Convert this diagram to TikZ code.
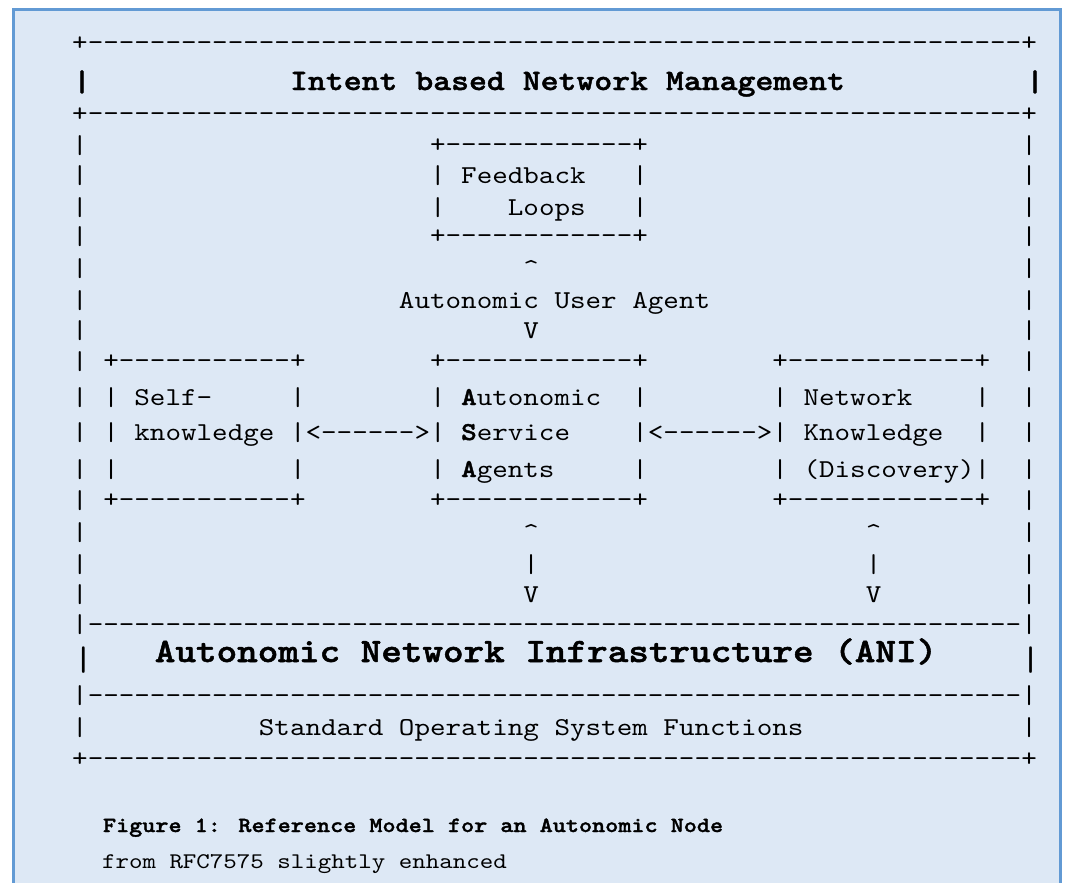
\documentclass[tikz,border=0pt]{standalone}
\usepackage{fontspec}
\newfontfamily\artfont{lmmono10-regular.otf}[BoldFont=lmmonolt10-bold.otf, BoldFeatures={FakeBold=1.5}, FakeStretch=1.15]
\usepackage{tikz}

\definecolor{panelfill}{RGB}{221,232,245}
\definecolor{panelline}{RGB}{98,154,212}
\newcommand\dashrun[1]{\ifnum#1>0 -\expandafter\dashrun\expandafter{\number\numexpr#1-1\relax}\fi}

\begin{document}
\begin{tikzpicture}[x=1pt, y=-1pt,
		every node/.style={inner sep=0pt, outer sep=0pt},
		art/.style={anchor=base west, font=\artfont\fontsize{25.77}{30}\selectfont},
		bigbar/.style={anchor=base, font=\artfont\bfseries\fontsize{29.65}{34}\selectfont},
		anibar/.style={anchor=base, font=\artfont\fontsize{34.1}{40}\selectfont},
		caption/.style={anchor=base west, font=\artfont\fontsize{22.36}{26}\selectfont}]
	\useasboundingbox (0,0) rectangle (1065,883);
	\fill[white] (0,0) rectangle (1065,883);
	\draw[panelline, line width=3pt, fill=panelfill] (13.3,10) rectangle (1060.5,900);

	% title row of the frame
	\node[bigbar] (ibnl) at (82,91) {|};
	\node[bigbar] (ibn) at (567.5,90) {Intent based Network Management};
	\node[bigbar] (ibnr) at (1035,91) {|};

	% ANI row
	\node[anibar] (anil) at (83.3,670) {|};
	\node[anibar, font=\artfont\bfseries\fontsize{34.1}{40}\selectfont] (ani) at (546,662)
		{Autonomic Network Infrastructure (ANI)};
	\node[anibar] (anir) at (1030.7,670) {|};

	\begin{scope}[x=15.56pt, xshift=72.2pt]
		\node[art] (top) at (0,51) {+\dashrun{60}+};
		\node[art] (ibnbot) at (0,121) {+\dashrun{60}+};

		\foreach \y in {153,183,215,244,276,308,338,369,405,440,477,508,540,572,602} {
			\node[art] (lb\y) at (0,\y) {|};
			\node[art] (rb\y) at (61,\y) {|};
		}

		% feedback loops
		\node[art] (fbtop) at (23,152) {+\dashrun{12}+};
		\node[art] (fbl1) at (23,183) {|};
		\node[art] (fb1) at (25,183) {Feedback};
		\node[art] (fbr1) at (36,183) {|};
		\node[art] (fbl2) at (23,215) {|};
		\node[art] (fb2) at (28,215) {Loops};
		\node[art] (fbr2) at (36,215) {|};
		\node[art] (fbbot) at (23,243) {+\dashrun{12}+};

		\node[art] (uaup) at (29,276) {\textasciicircum};
		\node[art] (ua) at (21,308) {Autonomic User Agent};
		\node[art] (uadn) at (29,338) {V};

		% the three boxes
		\node[art] (sktop) at (2,368) {+\dashrun{11}+};
		\node[art] (asatop) at (23,368) {+\dashrun{12}+};
		\node[art] (nktop) at (45,368) {+\dashrun{12}+};

		\node[art] (skl1) at (2,405) {|};
		\node[art] (sk1) at (4,405) {Self-};
		\node[art] (skr1) at (14,405) {|};
		\node[art] (asal1) at (23,405) {|};
		\node[art] (asa1) at (25,405) {\textbf{A}utonomic};
		\node[art] (asar1) at (36,405) {|};
		\node[art] (nkl1) at (45,405) {|};
		\node[art] (nk1) at (47,405) {Network};
		\node[art] (nkr1) at (58,405) {|};

		\node[art] (skl2) at (2,440) {|};
		\node[art] (sk2) at (4,440) {knowledge};
		\node[art] (skasa) at (14,440) {|<------>|};
		\node[art] (asa2) at (25,440) {\textbf{S}ervice};
		\node[art] (asank) at (36,440) {|<------>|};
		\node[art] (nk2) at (47,440) {Knowledge};
		\node[art] (nkr2) at (58,440) {|};

		\node[art] (skl3) at (2,477) {|};
		\node[art] (skr3) at (14,477) {|};
		\node[art] (asal3) at (23,477) {|};
		\node[art] (asa3) at (25,477) {\textbf{A}gents};
		\node[art] (asar3) at (36,477) {|};
		\node[art] (nkl3) at (45,477) {|};
		\node[art] (nk3) at (47,477) {(Discovery)|};

		\node[art] (skbot) at (2,507) {+\dashrun{11}+};
		\node[art] (asabot) at (23,507) {+\dashrun{12}+};
		\node[art] (nkbot) at (45,507) {+\dashrun{12}+};

		\node[art] (asaup) at (29,540) {\textasciicircum};
		\node[art] (asamid) at (29,572) {|};
		\node[art] (asadn) at (29,602) {V};
		\node[art] (nkup) at (51,540) {\textasciicircum};
		\node[art] (nkmid) at (51,572) {|};
		\node[art] (nkdn) at (51,602) {V};

		% ANI and OS layers
		\node[art] (anitop) at (0,632) {|\dashrun{60}|};
		\node[art] (anibot) at (0,703) {|\dashrun{60}|};
		\node[art] (osl) at (0,735) {|};
		\node[art] (os) at (12,735) {Standard Operating System Functions};
		\node[art] (osr) at (61,735) {|};
		\node[art] (bot) at (0,766) {+\dashrun{60}+};
	\end{scope}

	\node[caption, font=\artfont\bfseries\fontsize{21.7}{26}\selectfont] (fig) at (103,832)
		{Figure 1: Reference Model for an Autonomic Node};
	\node[caption] (src) at (102,868) {from RFC7575 slightly enhanced};
\end{tikzpicture}
\end{document}
